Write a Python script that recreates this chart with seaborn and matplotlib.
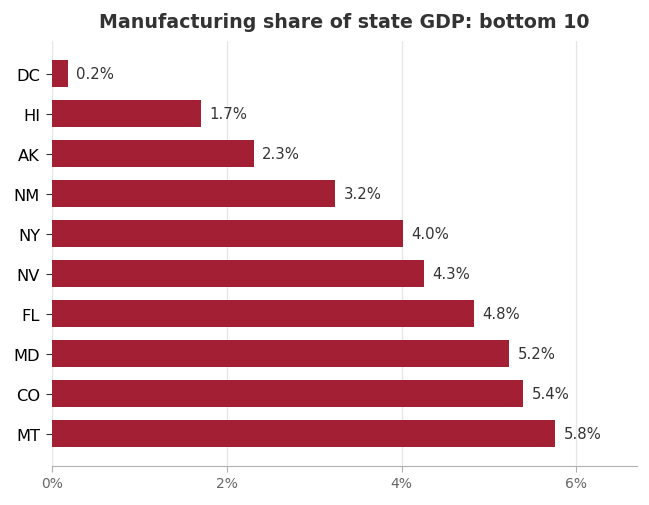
import matplotlib
matplotlib.use("Agg")
import matplotlib.pyplot as plt
import seaborn as sns
import pandas as pd
from matplotlib.ticker import FuncFormatter

states = ["DC", "HI", "AK", "NM", "NY", "NV", "FL", "MD", "CO", "MT"]
share = [0.18, 1.70, 2.31, 3.24, 4.02, 4.26, 4.83, 5.23, 5.39, 5.76]

df = pd.DataFrame({"state": states, "share": share})

sns.set_style("whitegrid")
plt.rcParams["font.family"] = ["DejaVu Sans"]

fig, ax = plt.subplots(figsize=(6.49, 5.06), dpi=100)
fig.subplots_adjust(left=0.08, right=0.981, top=0.917, bottom=0.078)

sns.barplot(data=df, x="share", y="state", color="#A31F34", saturation=1,
            width=0.68, linewidth=0, ax=ax)

for i, v in enumerate(share):
    ax.text(v + 0.095, i, f"{v:.1f}%", va="center", ha="left",
            fontsize=10.7, color="#333333")

ax.set_xlim(0, 6.69)
ax.set_ylim(9.8, -0.82)
ax.set_xticks([0, 2, 4, 6])
ax.xaxis.set_major_formatter(FuncFormatter(lambda x, p: f"{x:.0f}%"))
ax.grid(axis="y", visible=False)
ax.grid(axis="x", color="#e6e6e6", linewidth=0.9)
ax.set_xlabel("")
ax.set_ylabel("")
ax.set_title("Manufacturing share of state GDP: bottom 10", fontsize=13.7,
             fontweight="bold", color="#333333", pad=10)

for s in ["top", "right", "left"]:
    ax.spines[s].set_visible(False)
ax.spines["bottom"].set_color("#b0b0b0")
ax.tick_params(axis="x", colors="#666666", labelsize=10, length=4,
               color="#b0b0b0", bottom=True)
ax.tick_params(axis="y", labelsize=11.7, labelcolor="black", length=4.5,
               pad=4, color="#333333", left=True)

fig.savefig("out.png", dpi=100)
